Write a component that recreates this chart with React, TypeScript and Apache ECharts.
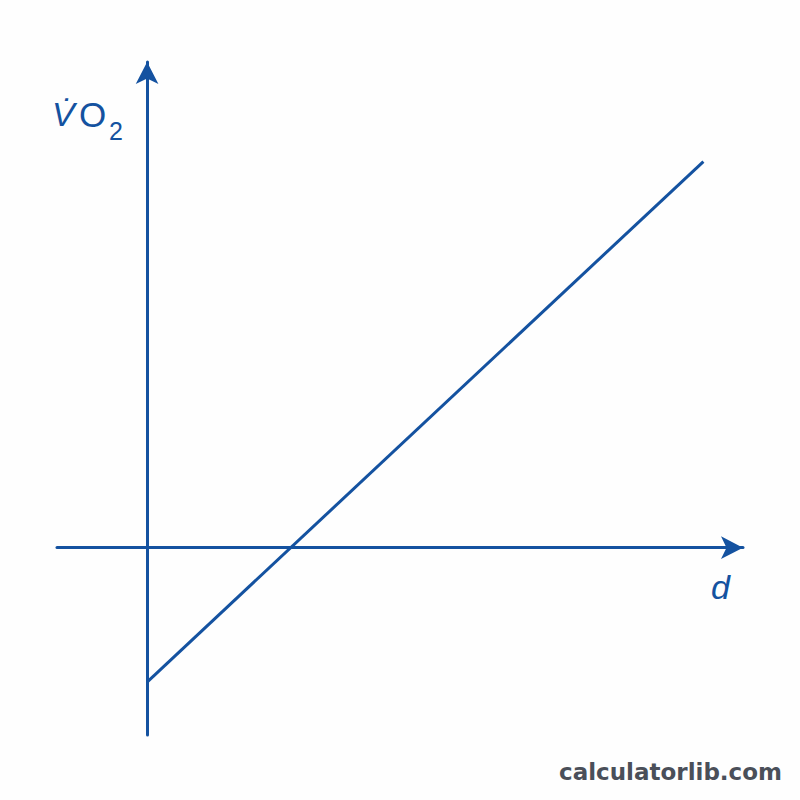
// Grafico esquematico: consumo de oxigenio (VO2) em funcao da distancia d.
// Reta unica cruzando o eixo d em d=1, com eixos em seta e sem escalas numericas.
import { useEffect, useRef } from 'react'
import * as echarts from 'echarts'

const COR = '#1452a0'
const FONTE = 'Liberation Sans, Arial, sans-serif'

// extremos da reta (unidades arbitrarias: 1 unidade = distancia da origem ao cruzamento)
const retaD = [0, 3.89]
const retaVO2 = [-0.94, 2.7]

// limites dos eixos (sem marcas nem rotulos numericos)
const limitesD = [-0.63, 4.167]
const limitesVO2 = [-1.31, 3.396]

const rotuloV = 'V\u0307'
const rotuloO = 'O'
const rotuloSub = '2'
const rotuloX = 'd'
const marca = 'calculatorlib.com'

export default function App() {
  const containerRef = useRef<HTMLDivElement>(null)

  useEffect(() => {
    if (!containerRef.current) return
    const instancia = echarts.init(containerRef.current, undefined, { renderer: 'svg' })

    const eixoComum = {
      type: 'value' as const,
      axisLine: {
        onZero: true,
        symbol: ['none', 'arrow'],
        symbolSize: [17, 22],
        lineStyle: { color: COR, width: 3 },
      },
      axisTick: { show: false },
      axisLabel: { show: false },
      splitLine: { show: false },
    }

    instancia.setOption({
      animation: false,
      backgroundColor: '#fefefe',
      grid: { left: 57, right: 57, top: 62, bottom: 65 },
      xAxis: { ...eixoComum, min: limitesD[0], max: limitesD[1] },
      yAxis: { ...eixoComum, min: limitesVO2[0], max: limitesVO2[1] },
      series: [
        {
          type: 'line',
          data: retaD.map((d, i) => [d, retaVO2[i]]),
          showSymbol: false,
          lineStyle: { color: COR, width: 3 },
        },
      ],
      graphic: [
        {
          type: 'text',
          left: 52,
          top: 97,
          style: { text: rotuloV, fontSize: 34, fontStyle: 'italic', fontFamily: FONTE, fill: COR },
        },
        {
          type: 'text',
          left: 79,
          top: 97,
          style: { text: rotuloO, fontSize: 35, fontFamily: FONTE, fill: COR },
        },
        {
          type: 'text',
          left: 109,
          top: 118,
          style: { text: rotuloSub, fontSize: 25, fontFamily: FONTE, fill: COR },
        },
        {
          type: 'text',
          left: 711,
          top: 570,
          style: { text: rotuloX, fontSize: 34, fontStyle: 'italic', fontFamily: FONTE, fill: COR },
        },
        {
          type: 'text',
          right: 18,
          bottom: 17,
          style: {
            text: marca,
            fontSize: 23,
            fontWeight: 'bold',
            fontFamily: 'DejaVu Sans, sans-serif',
            fill: '#4a4f59',
          },
        },
      ],
    })

    return () => instancia.dispose()
  }, [])

  return (
    <div
      ref={containerRef}
      style={{ position: 'absolute', left: 0, top: 0, width: 800, height: 800 }}
    />
  )
}
